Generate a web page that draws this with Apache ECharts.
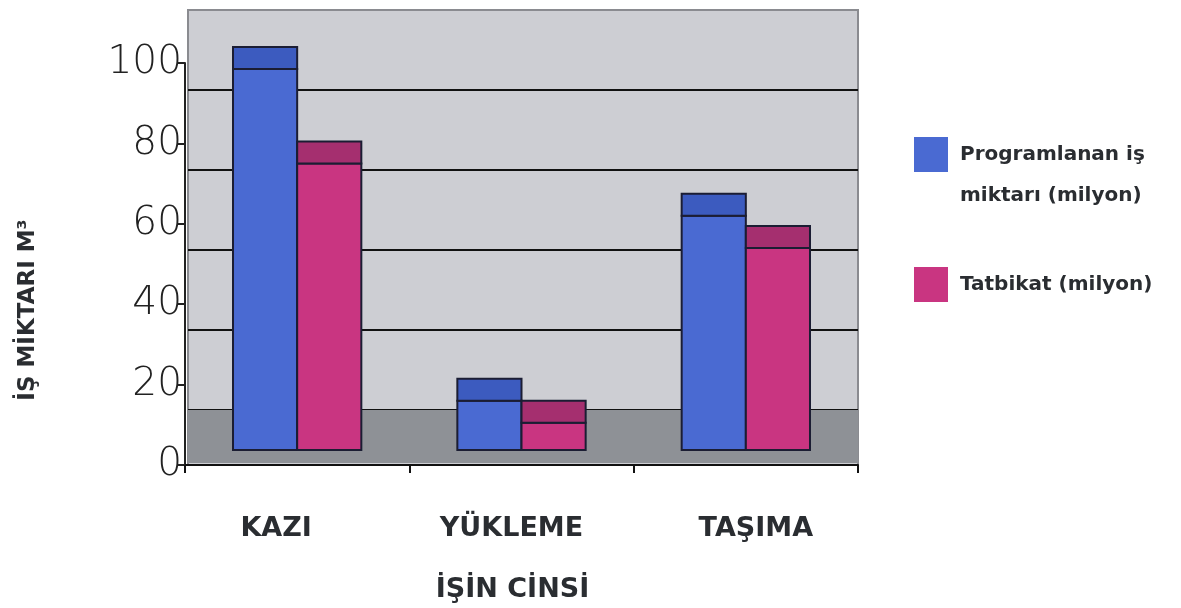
<!DOCTYPE html>
<html>
<head>
<meta charset="utf-8">
<script src="https://cdn.jsdelivr.net/npm/echarts@6/dist/echarts.min.js"></script>
<style>
  html, body { margin: 0; padding: 0; background: #fff; }
  #chart { width: 1181px; height: 608px; }
</style>
</head>
<body>
<div id="chart"></div>
<script>
// data (front face of each bar, in million m3)
const categories = ['KAZI', 'YÜKLEME', 'TAŞIMA'];
const programlanan = [98.5, 16, 62];
const tatbikat = [75, 10.5, 54];
const seriesNames = ['Programlanan iş miktarı (milyon)', 'Tatbikat (milyon)'];
const backWallTicks = { min: 20, max: 100, interval: 20 };

const chart = echarts.init(document.getElementById('chart'));

const font = 'DejaVu Sans';
const textColor = '#2a2d31';
const edge = '#1b1d33';

// labels in the scan sit a little off the category centres
const labelPad = [[0, 42, 0, 0], [0, 20, 0, 0], [0, 0, 0, 20]];

// pseudo-3D bar: front face + darker top cap
function barRenderer(side, front, top) {
  return function (params, api) {
    const i = api.value(0);
    const v = api.value(1);
    const p = api.coord([i, v]);
    const base = api.coord([i, 0]);
    const w = api.size([1, 0])[0] * 0.286;
    const x = side < 0 ? p[0] - w : p[0];
    const lift = 15, cap = 22;
    return {
      type: 'group',
      children: [
        {
          type: 'rect',
          shape: { x: x, y: p[1], width: w, height: base[1] - lift - p[1] },
          style: { fill: front, stroke: edge, lineWidth: 2 }
        },
        {
          type: 'rect',
          shape: { x: x, y: p[1] - cap, width: w, height: cap },
          style: { fill: top, stroke: edge, lineWidth: 2 }
        }
      ]
    };
  };
}

chart.setOption({
  animation: false,
  backgroundColor: '#fff',
  graphic: [
    // back wall
    {
      type: 'rect', z: -10,
      shape: { x: 188, y: 10, width: 670, height: 455 },
      style: { fill: '#cdced3', stroke: '#8a8b90', lineWidth: 2 }
    },
    // floor
    {
      type: 'rect', z: 1,
      shape: { x: 188, y: 410, width: 670, height: 53 },
      style: { fill: '#8e9196' }
    },
    {
      type: 'text', z: 5,
      x: 28, y: 310, rotation: Math.PI / 2,
      style: {
        text: 'İŞ MİKTARI M³',
        fontFamily: font, fontWeight: 'bold', fontSize: 23,
        fill: textColor, align: 'center', verticalAlign: 'middle'
      }
    }
  ],
  legend: [
    {
      data: [seriesNames[0]],
      left: 914, top: 93, padding: 0,
      orient: 'vertical', icon: 'rect',
      itemWidth: 34, itemHeight: 35,
      selectedMode: false,
      formatter: n => '\n' + n.replace(' miktarı', '\nmiktarı'),
      textStyle: {
        fontFamily: font, fontWeight: 'bold', fontSize: 20,
        color: textColor, lineHeight: 41, padding: [0, 0, 0, 7]
      }
    },
    {
      data: [seriesNames[1]],
      left: 914, top: 264, padding: 0,
      orient: 'vertical', icon: 'rect',
      itemWidth: 34, itemHeight: 35,
      selectedMode: false,
      textStyle: {
        fontFamily: font, fontWeight: 'bold', fontSize: 20,
        color: textColor, lineHeight: 41, padding: [0, 0, 0, 7]
      }
    }
  ],
  grid: [
    { left: 185, right: 323, top: 63, bottom: 143 },
    { left: 188, right: 323, top: 90, bottom: 198 }
  ],
  xAxis: [
    {
      type: 'category',
      gridIndex: 0,
      data: categories.map((c, i) => ({ value: c, textStyle: { padding: labelPad[i] } })),
      axisLine: { lineStyle: { color: '#111', width: 2 } },
      axisTick: { show: true, length: 8, lineStyle: { color: '#111', width: 2 } },
      axisLabel: {
        margin: 50,
        fontFamily: font, fontWeight: 'bold', fontSize: 27, color: textColor
      },
      name: 'İŞİN CİNSİ',
      nameLocation: 'middle',
      nameGap: 111,
      nameTextStyle: {
        fontFamily: font, fontWeight: 'bold', fontSize: 27, color: textColor,
        padding: [0, 18, 0, 0]
      }
    },
    { type: 'value', gridIndex: 1, show: false }
  ],
  yAxis: [
    {
      type: 'value',
      gridIndex: 0,
      min: 0, max: 100, interval: 20,
      axisLine: { show: true, lineStyle: { color: '#222', width: 2 } },
      axisTick: { show: true, length: 8, lineStyle: { color: '#222', width: 2 } },
      splitLine: { show: false },
      axisLabel: {
        margin: 3,
        fontFamily: font, fontWeight: 200, fontSize: 39, color: '#222'
      }
    },
    {
      type: 'value',
      gridIndex: 1,
      min: backWallTicks.min, max: backWallTicks.max, interval: backWallTicks.interval,
      axisLine: { show: false },
      axisTick: { show: false },
      axisLabel: { show: false },
      splitLine: { show: true, lineStyle: { color: '#111', width: 2 } }
    }
  ],
  series: [
    {
      name: seriesNames[0],
      type: 'custom',
      xAxisIndex: 0, yAxisIndex: 0,
      z: 3,
      itemStyle: { color: '#4a6ad2' },
      renderItem: barRenderer(-1, '#4a6ad2', '#3c5bbf'),
      encode: { x: 0, y: 1 },
      data: categories.map((c, i) => [i, programlanan[i]])
    },
    {
      name: seriesNames[1],
      type: 'custom',
      xAxisIndex: 0, yAxisIndex: 0,
      z: 3,
      itemStyle: { color: '#c93581' },
      renderItem: barRenderer(1, '#c93581', '#a52f6f'),
      encode: { x: 0, y: 1 },
      data: categories.map((c, i) => [i, tatbikat[i]])
    }
  ]
});
</script>
</body>
</html>
